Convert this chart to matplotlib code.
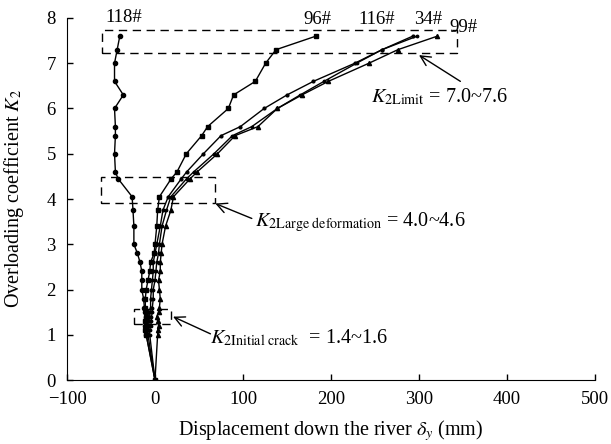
import matplotlib
matplotlib.use("Agg")
import matplotlib.pyplot as plt
from matplotlib.patches import Rectangle

plt.rcParams['font.family'] = ['Liberation Serif', 'DejaVu Serif']
plt.rcParams['mathtext.fontset'] = 'stix'

# overloading coefficient levels shared by all monitoring points
k2 = [0, 1.0, 1.1, 1.2, 1.3, 1.4, 1.5, 1.6, 1.8, 2.0, 2.2, 2.4, 2.6, 2.8, 3.0,
      3.4, 3.75, 4.05, 4.45, 4.6, 5.0, 5.4, 5.6, 6.0, 6.3, 6.6, 7.0, 7.3, 7.6]

# displacement down the river (mm)
d_118 = [0, -10, -10, -11, -10, -10, -11, -12, -13, -15, -15, -15, -17, -20, -24,
         -24, -25, -26, -42, -45, -46, -45, -45, -46, -36, -46, -46, -43, -40]
d_96 = [0, -10, -11, -10, -11, -10, -10, -11, -11, -10, -8, -6, -5, -1, 0,
        2, 3, 5, 18.5, 25, 35.6, 53, 59.8, 83.3, 89.3, 114, 125.7, 137.5, 183]
d_116 = [0, -8, -8, -7, -7, -6, -6, -5, -5, -4, -3, -2, -2, 0, 2,
         6, 9, 15, 30, 36, 55, 75, 97, 124, 150, 180, 227, 258, 293]
d_34 = [0, -6, -6, -5, -4, -4, -3, -3, -2, -2, 0, 1, 2, 4, 5,
        8, 13, 18, 36, 44, 67, 88, 110, 139, 165, 192, 229, 258, 298]
d_99 = [0, 3, 3, 4, 3, 2, 4, 5, 6, 5, 4, 6, 6, 7, 8,
        12, 18, 21, 40, 48, 71, 91, 117, 139, 167, 197, 243, 276, 321]

curve_names = ['118#', '96#', '116#', '34#', '99#']
label_x = [-36, 184, 252, 310, 350]
label_y = [8.0, 7.97, 7.97, 7.97, 7.8]

# dashed boxes: (x0, x1, y0, y1)
boxes = [(-60, 343, 7.23, 7.73), (-61, 68, 3.92, 4.48), (-24, 18, 1.24, 1.57)]
notes = [r'$K_{\mathrm{2Limit}}$ = 7.0~7.6',
         r'$K_{\mathrm{2Large\ deformation}}$ = 4.0~4.6',
         r'$K_{\mathrm{2Initial\ crack}}$  = 1.4~1.6']
note_head = [(300, 7.18), (68.5, 3.9), (20.5, 1.4)]
note_tail = [(347, 6.6), (110, 3.57), (63, 1.02)]
note_text = [(245, 6.25), (114, 3.5), (63, 0.93)]

fig = plt.figure(figsize=(6.11, 4.44), dpi=100)
ax = fig.add_axes([67 / 611, 1 - 380 / 444, (595 - 67) / 611, (380 - 18) / 444])

styles = [('o', 3), ('s', 3.5), ('.', 4), ('.', 3.5), ('^', 3)]
for d, (m, ms) in zip([d_118, d_96, d_116, d_34, d_99], styles):
    ax.plot(d, k2, color='black', lw=1, marker=m, ms=ms, mfc='black', mec='black')

for name, x, y in zip(curve_names, label_x, label_y):
    ax.text(x, y, name, ha='center', va='center', fontsize=13.5)

for x0, x1, y0, y1 in boxes:
    ax.add_patch(Rectangle((x0, y0), x1 - x0, y1 - y0, fill=False, ls=(0, (6, 4)),
                           lw=1, ec='black'))

for txt, head, tail, pos in zip(notes, note_head, note_tail, note_text):
    ax.annotate('', xy=head, xytext=tail,
                arrowprops=dict(arrowstyle='->', color='black', lw=1,
                                shrinkA=0, shrinkB=0, mutation_scale=18))
    ax.text(pos[0], pos[1], txt, ha='left', va='center', fontsize=14.5)

ax.set_xlim(-100, 500)
ax.set_ylim(0, 8)
ax.set_xticks(range(-100, 501, 100))
ax.set_xticklabels(['\u2212100', '0', '100', '200', '300', '400', '500'])
ax.set_yticks(range(0, 9))
ax.tick_params(direction='in', labelsize=13.5, length=4, width=1)
ax.tick_params(axis='y', pad=8)
ax.tick_params(axis='x', pad=8)
for s in ['top', 'right']:
    ax.spines[s].set_visible(False)
ax.set_xlabel(r'Displacement down the river $\delta_y$ (mm)', fontsize=14.5)
ax.set_ylabel(r'Overloading coefficient $K_2$', fontsize=14.5)
ax.xaxis.set_label_coords(0.5, -0.105)
ax.yaxis.set_label_coords(-0.077, 0.5)

fig.savefig('out.png', dpi=100)
